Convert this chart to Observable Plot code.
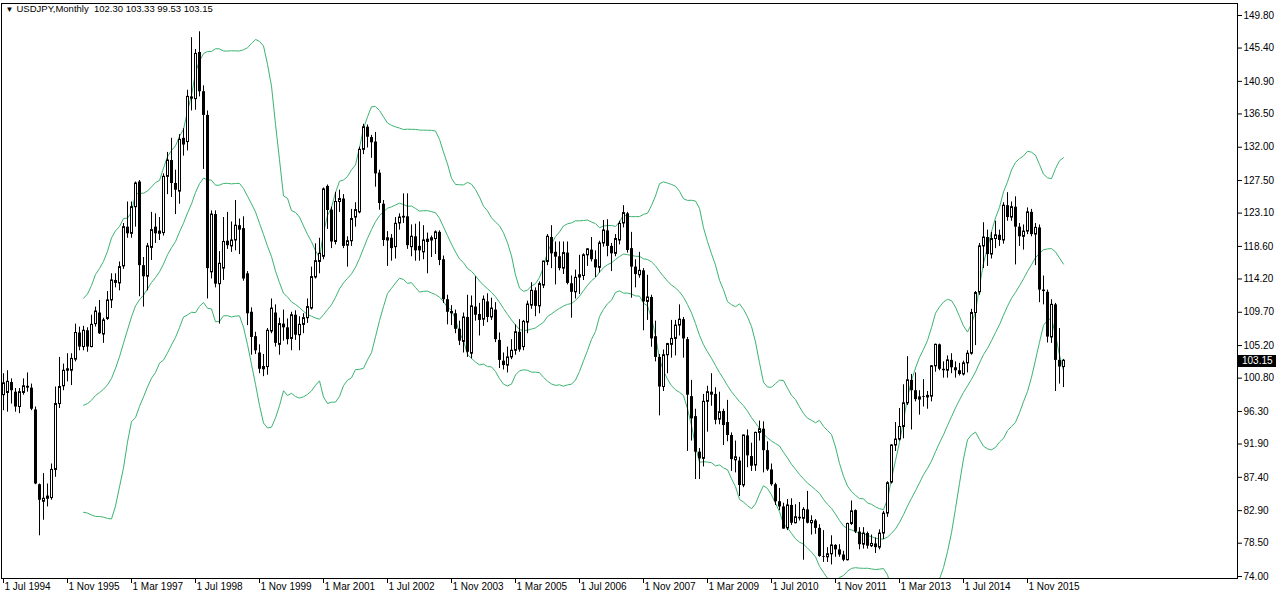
<!DOCTYPE html>
<html>
<head>
<meta charset="utf-8">
<script src="https://cdn.jsdelivr.net/npm/d3@7"></script>
<script src="https://cdn.jsdelivr.net/npm/@observablehq/plot@0.6"></script>
<style>
  html, body { margin: 0; padding: 0; background: #fff; }
  #wrap { position: relative; width: 1280px; height: 600px; overflow: hidden; }
  #tag { position: absolute; background: #000; color: #fff; font: 10px "Liberation Sans", Arial, sans-serif;
         line-height: 12px; height: 12px; padding: 0 0 0 4px; box-sizing: border-box; }
</style>
</head>
<body>
<div id="wrap"></div>
<script>
// ---------------- data (monthly bars, Jul 1994 .. Aug 2016) ----------------
const symbol = "USDJPY,Monthly";
const firstMonth = { year: 1994, month: 7 };

const open = [
  98.5, 98.8, 100.2, 98.9, 96.9, 98.8,
  99.7, 99.45, 96.5, 86.4, 84.1, 84.5, 84.6, 88.4, 97.3, 99.7, 101.8, 101.8,
  103.3, 106.9, 105.0, 107.2, 105.0, 108.1, 109.6, 106.7, 108.8, 111.3, 114.0, 113.6,
  115.9, 121.2, 120.3, 123.9, 127.3, 116.0, 114.5, 118.4, 121.2, 120.3, 120.4, 128.0,
  130.2, 127.1, 126.0, 133.2, 132.7, 138.8, 138.5, 144.8, 139.5, 136.3, 115.1, 122.9,
  113.5, 115.6, 119.3, 118.6, 119.4, 121.4, 121.0, 114.9, 109.7, 106.4, 104.2, 102.0,
  102.3, 107.1, 109.6, 105.3, 108.1, 107.6, 106.1, 109.3, 106.6, 108.0, 108.9, 110.2,
  114.4, 116.5, 117.2, 126.7, 123.5, 119.2, 124.6, 125.0, 118.7, 119.3, 122.5, 123.2,
  131.65, 134.7, 133.3, 132.7, 128.5, 124.3, 119.4, 119.7, 118.5, 121.7, 122.5, 122.6,
  118.5, 119.9, 118.6, 117.8, 119.2, 119.4, 119.6, 120.5, 116.8, 111.4, 109.8, 109.5,
  107.4, 105.7, 109.0, 104.1, 110.4, 109.4, 108.7, 111.1, 109.0, 110.0, 105.9, 103.1,
  102.5, 103.6, 104.5, 107.0, 105.0, 108.3, 110.6, 112.6, 110.5, 113.3, 116.5, 119.8,
  117.8, 117.2, 115.6, 117.7, 113.55, 112.4, 114.4, 114.6, 117.4, 118.1, 116.8, 115.7,
  119.0, 120.7, 118.6, 117.6, 119.4, 121.7, 123.0, 118.3, 115.8, 114.7, 115.3, 111.1,
  111.7, 106.4, 103.6, 99.6, 103.9, 105.3, 106.1, 107.9, 108.7, 106.0, 98.3, 95.6,
  90.8, 89.9, 97.6, 98.9, 98.6, 95.2, 96.3, 94.8, 93.05, 89.7, 89.6, 86.3,
  93.0, 90.2, 89.0, 93.4, 93.9, 91.0, 88.4, 86.4, 84.1, 83.4, 80.5, 83.6,
  81.2, 82.0, 81.8, 83.0, 81.2, 81.5, 80.5, 76.7, 76.6, 77.0, 78.2, 77.6,
  76.9, 76.2, 81.1, 82.9, 80.0, 78.3, 79.8, 78.1, 78.4, 77.9, 79.8, 82.5,
  86.7, 91.7, 92.5, 94.2, 97.4, 100.5, 99.1, 97.9, 98.3, 98.2, 98.3, 102.4,
  105.3, 102.0, 101.8, 103.2, 102.2, 101.8, 101.3, 102.8, 104.1, 109.6, 112.4, 118.6,
  119.8, 117.5, 119.6, 120.1, 119.4, 124.1, 122.5, 123.9, 121.2, 119.9, 120.6, 123.2,
  120.2, 121.1, 112.7, 112.4, 106.3, 110.7, 103.2, 102.30
];
const high = [
  101.4, 101.8, 100.7, 99.4, 99.4, 100.7,
  101.5, 100.0, 96.9, 86.5, 87.9, 86.5, 89.2, 99.6, 103.6, 102.7, 104.1, 104.1,
  108.1, 107.7, 107.8, 107.6, 109.3, 110.4, 111.3, 108.9, 112.5, 114.9, 114.9, 116.5,
  121.7, 124.6, 124.6, 127.3, 127.5, 117.1, 119.0, 123.2, 123.0, 122.5, 128.4, 131.3,
  133.2, 128.9, 133.7, 134.5, 139.7, 146.8, 145.2, 147.6, 140.3, 136.9, 123.4, 123.4,
  117.9, 122.5, 123.2, 121.9, 124.8, 122.3, 122.6, 115.2, 110.3, 107.0, 105.3, 104.0,
  107.5, 111.5, 110.7, 108.9, 110.0, 108.8, 109.7, 109.9, 109.1, 109.5, 111.5, 115.8,
  118.95, 119.7, 126.5, 126.9, 123.9, 125.9, 126.2, 125.6, 119.9, 123.6, 124.5, 132.0,
  135.1, 135.0, 133.6, 134.0, 128.9, 124.8, 120.6, 120.2, 122.5, 123.0, 125.7, 125.7,
  121.5, 121.6, 121.9, 121.4, 120.4, 120.0, 120.7, 120.7, 117.3, 112.0, 110.6, 110.0,
  108.5, 109.6, 112.0, 111.9, 114.5, 110.9, 111.9, 112.2, 111.6, 111.0, 106.9, 104.2,
  105.0, 106.0, 108.0, 108.7, 108.6, 111.2, 113.7, 113.0, 113.8, 116.6, 120.2, 121.4,
  119.2, 119.2, 119.2, 119.2, 114.6, 115.4, 117.4, 117.6, 118.3, 119.8, 118.0, 119.3,
  122.1, 122.2, 119.0, 120.2, 122.0, 124.1, 123.2, 120.5, 116.8, 117.8, 115.6, 114.7,
  112.0, 108.5, 104.0, 104.6, 105.5, 108.6, 108.6, 110.7, 109.0, 106.3, 100.5, 96.6,
  91.3, 98.6, 99.7, 101.4, 99.5, 98.9, 96.6, 97.8, 93.4, 92.3, 90.1, 93.1,
  93.8, 92.0, 93.5, 95.0, 94.9, 92.2, 89.2, 86.6, 85.9, 83.9, 84.4, 84.5,
  83.7, 84.0, 83.3, 85.5, 82.2, 81.7, 81.0, 80.2, 77.9, 79.5, 78.3, 78.3,
  77.4, 81.2, 84.2, 83.0, 80.6, 80.6, 80.0, 79.6, 79.2, 80.3, 82.8, 86.8,
  91.8, 94.8, 96.7, 99.9, 103.7, 101.3, 101.5, 99.1, 100.6, 99.0, 102.5, 105.4,
  105.4, 103.0, 103.8, 104.1, 103.0, 102.8, 103.1, 104.5, 110.1, 112.5, 119.0, 121.8,
  120.8, 120.5, 122.0, 120.8, 124.5, 125.86, 124.6, 125.3, 121.7, 121.5, 123.8, 123.6,
  121.7, 121.5, 114.6, 112.7, 111.4, 110.9, 107.5, 103.33
];
const low = [
  96.4, 96.2, 97.3, 96.2, 96.0, 98.5,
  98.9, 96.4, 86.4, 79.5, 81.6, 83.4, 84.3, 87.4, 96.7, 99.1, 100.3, 99.8,
  103.0, 104.5, 104.5, 104.3, 104.9, 107.7, 106.7, 105.5, 108.6, 110.2, 113.0, 112.6,
  115.5, 119.7, 119.7, 121.2, 111.8, 110.4, 112.6, 116.7, 119.0, 119.4, 120.0, 125.6,
  125.2, 122.9, 124.3, 130.8, 131.5, 136.9, 137.0, 138.8, 129.0, 111.5, 114.2, 113.0,
  108.1, 114.0, 118.2, 117.8, 118.0, 117.5, 113.9, 107.9, 103.9, 104.0, 101.4, 101.0,
  101.2, 106.8, 105.0, 103.9, 105.8, 105.3, 104.5, 105.9, 104.5, 106.8, 108.2, 110.0,
  114.2, 114.9, 116.8, 120.9, 118.3, 118.8, 123.2, 118.3, 115.8, 118.6, 121.2, 123.0,
  131.0, 131.9, 130.5, 126.6, 123.5, 118.6, 115.9, 116.6, 116.9, 120.8, 121.7, 118.2,
  117.2, 116.6, 116.6, 116.8, 114.9, 117.1, 117.5, 116.0, 110.9, 108.0, 107.9, 106.8,
  105.2, 104.2, 103.6, 103.4, 108.5, 106.5, 107.8, 108.3, 108.6, 105.6, 102.1, 101.9,
  101.5, 103.3, 103.9, 104.3, 104.5, 106.8, 110.1, 109.1, 109.5, 112.9, 116.0, 115.6,
  113.4, 115.3, 114.8, 113.4, 108.9, 111.5, 112.1, 114.0, 115.9, 116.5, 114.4, 115.0,
  118.5, 117.2, 115.2, 117.2, 118.8, 121.1, 117.7, 111.6, 113.0, 114.3, 107.2, 108.6,
  104.97, 103.0, 95.7, 99.0, 101.4, 103.5, 103.8, 106.5, 103.5, 90.9, 92.3, 87.1,
  87.1, 88.8, 93.5, 97.0, 94.5, 94.5, 91.7, 92.2, 88.2, 88.0, 84.8, 86.0,
  88.7, 88.2, 88.2, 92.3, 88.0, 88.2, 86.2, 83.6, 82.9, 80.4, 80.2, 80.9,
  81.1, 81.5, 76.2, 81.1, 79.6, 79.7, 76.6, 75.9, 75.9, 75.56, 76.6, 76.6,
  76.0, 76.1, 80.9, 79.8, 77.6, 77.7, 77.7, 77.9, 77.1, 77.6, 79.0, 82.0,
  86.5, 90.9, 92.3, 92.6, 97.1, 93.8, 97.6, 95.8, 96.9, 96.6, 97.6, 101.6,
  101.8, 100.8, 100.8, 101.4, 100.8, 101.1, 101.1, 101.5, 103.9, 105.2, 112.0, 115.6,
  115.9, 116.9, 118.3, 118.6, 118.9, 122.0, 122.0, 116.1, 118.6, 118.1, 120.2, 119.9,
  116.0, 111.0, 110.7, 105.55, 105.5, 99.0, 100.0, 99.53
];
const close = [
  100.1, 100.3, 99.1, 96.9, 98.9, 99.7,
  99.45, 96.6, 86.5, 84.3, 84.5, 84.8, 88.4, 97.3, 99.6, 101.8, 102.0, 103.4,
  106.9, 105.0, 107.2, 105.0, 108.0, 109.8, 106.8, 108.6, 111.3, 114.0, 113.6, 115.8,
  121.2, 120.3, 123.9, 127.1, 116.0, 114.5, 118.6, 120.8, 120.3, 120.6, 128.0, 130.2,
  127.1, 126.2, 133.0, 132.3, 138.8, 138.5, 144.6, 139.5, 136.3, 115.6, 122.9, 113.5,
  116.25, 119.2, 118.7, 119.4, 121.4, 120.8, 114.2, 109.5, 106.3, 104.5, 102.0, 102.3,
  107.2, 110.2, 105.5, 108.1, 107.6, 106.0, 109.3, 106.6, 108.0, 108.9, 110.4, 114.45,
  116.6, 117.6, 126.3, 123.45, 119.2, 124.6, 125.0, 118.6, 119.3, 122.3, 123.5, 131.65,
  134.7, 133.35, 132.6, 128.4, 124.4, 119.4, 119.7, 118.3, 121.65, 122.5, 122.6, 118.7,
  119.9, 118.0, 118.0, 119.4, 119.5, 119.7, 120.5, 116.7, 111.4, 109.7, 109.5, 107.4,
  105.8, 109.0, 104.3, 110.5, 109.3, 108.6, 111.4, 109.0, 110.2, 106.0, 103.2, 102.5,
  103.6, 104.5, 107.0, 104.6, 108.4, 110.75, 112.6, 110.5, 113.5, 116.55, 119.9, 117.6,
  117.15, 115.6, 117.7, 113.6, 112.4, 114.35, 114.7, 117.4, 118.2, 116.8, 115.7, 119.0,
  120.75, 118.6, 117.6, 119.6, 121.65, 123.1, 118.05, 115.8, 114.8, 115.3, 111.1, 111.7,
  106.1, 103.6, 99.6, 103.9, 105.4, 106.1, 107.9, 108.7, 106.1, 98.5, 95.3, 90.8,
  89.9, 97.6, 98.9, 98.5, 95.1, 96.2, 94.4, 93.05, 89.8, 90.1, 86.3, 93.05,
  90.3, 88.9, 93.4, 93.9, 91.0, 88.4, 86.4, 84.1, 83.4, 80.4, 83.6, 81.2,
  82.0, 81.8, 83.0, 81.2, 81.5, 80.5, 76.7, 76.6, 77.0, 78.2, 77.6, 76.9,
  76.2, 81.1, 82.8, 80.0, 78.3, 79.8, 78.1, 78.4, 77.9, 79.8, 82.5, 86.6,
  91.7, 92.5, 94.2, 97.4, 100.5, 99.1, 97.9, 98.2, 98.2, 98.4, 102.4, 105.3,
  102.0, 101.8, 103.2, 102.2, 101.8, 101.3, 102.8, 104.1, 109.6, 112.3, 118.6, 119.8,
  117.5, 119.6, 120.1, 119.4, 124.1, 122.5, 123.9, 121.2, 119.9, 120.6, 123.2, 120.2,
  121.1, 112.7, 112.5, 106.35, 110.7, 103.2, 102.3, 103.15
];

const xTickLabels = [
  "1 Jul 1994", "1 Nov 1995", "1 Mar 1997", "1 Jul 1998", "1 Nov 1999", "1 Mar 2001",
  "1 Jul 2002", "1 Nov 2003", "1 Mar 2005", "1 Jul 2006", "1 Nov 2007", "1 Mar 2009",
  "1 Jul 2010", "1 Nov 2011", "1 Mar 2013", "1 Jul 2014", "1 Nov 2015"
];
const yTickValues = [149.80, 145.40, 140.90, 136.50, 132.00, 127.50, 123.10, 118.60, 114.20,
  109.70, 105.20, 100.80, 96.30, 91.90, 87.40, 82.90, 78.50, 74.00];

const bandPeriod = 20;
const bandDeviations = 2;
// ---------------------------------------------------------------------------

const bars = open.map((o, i) => ({ i, open: o, high: high[i], low: low[i], close: close[i] }));
const up = bars.filter(d => d.close >= d.open);
const down = bars.filter(d => d.close < d.open);

const monthNames = ["Jan","Feb","Mar","Apr","May","Jun","Jul","Aug","Sep","Oct","Nov","Dec"];
const xTicks = xTickLabels.map(label => {
  const [, mon, yr] = label.split(" ");
  return { label, i: (+yr - firstMonth.year) * 12 + monthNames.indexOf(mon) + 1 - firstMonth.month };
});

// Bollinger bands (population deviation over the last `bandPeriod` closes)
function bandReducer(kind) {
  return (values) => {
    if (values.length < bandPeriod + 1) return NaN;
    const w = Array.from(values).slice(-bandPeriod);
    const m = d3.mean(w);
    const sd = Math.sqrt(d3.mean(w, v => (v - m) ** 2));
    return kind === "mid" ? m : kind === "up" ? m + bandDeviations * sd : m - bandDeviations * sd;
  };
}
const bandColor = "#3CB371";
const band = (kind) => Plot.lineY(bars, Plot.windowY(
  { k: bandPeriod + 1, anchor: "end", strict: true, reduce: bandReducer(kind) },
  { x: "i", y: "close", stroke: bandColor, strokeWidth: 1, clip: true }
));

const last = bars[bars.length - 1];
const header = `${symbol}\u00a0 ${last.open.toFixed(2)} ${last.high.toFixed(2)} ${last.low.toFixed(2)} ${last.close.toFixed(2)}`;

const chart = Plot.plot({
  width: 1280,
  height: 600,
  marginLeft: 1,
  marginRight: 43,
  marginTop: 3,
  marginBottom: 22,
  style: { fontFamily: "'Liberation Sans', Arial, sans-serif", fontSize: "10px", background: "#fff", color: "#000", overflow: "visible" },
  x: { type: "linear", domain: [-0.5, 308.5] },
  y: { type: "linear", domain: [73.73, 151.42] },
  marks: [
    band("up"),
    band("mid"),
    band("lo"),
    Plot.ruleX(bars, { x: "i", y1: "low", y2: "high", stroke: "#000", strokeWidth: 1 }),
    Plot.rect(down, { x1: d => d.i - 0.375, x2: d => d.i + 0.375, y1: "open", y2: "close", fill: "#000", dx: 0.5 }),
    Plot.rect(up, { x1: d => d.i - 0.25, x2: d => d.i + 0.25, y1: "open", y2: "close", fill: "#fff", stroke: "#000", strokeWidth: 1, dx: 0.5 }),
    Plot.frame({ stroke: "#000" }),
    Plot.axisY({ anchor: "right", ticks: yTickValues, tickFormat: d => d.toFixed(2), tickSize: 4, tickPadding: 2, label: null }),
    Plot.axisX({ ticks: xTicks.map(d => d.i), tickFormat: () => "", tickSize: 5, label: null }),
    Plot.text(xTicks, { x: "i", text: "label", frameAnchor: "bottom", lineAnchor: "top", textAnchor: "start", dx: 1, dy: 4 }),
    Plot.text(["\u25BC"], { frameAnchor: "top-left", dx: 4, dy: 3, lineAnchor: "top", textAnchor: "start", fontSize: 8 }),
    Plot.text([header], { frameAnchor: "top-left", dx: 15, dy: 2, lineAnchor: "top", textAnchor: "start", fontSize: 9.5 })
  ]
});

const wrap = document.getElementById("wrap");
wrap.appendChild(chart);

// current price tag on the price scale
const yScale = chart.scale("y");
const py = yScale.apply(last.close);
const tag = document.createElement("div");
tag.id = "tag";
tag.textContent = last.close.toFixed(2);
tag.style.left = "1238px";
tag.style.top = (py - 6 + 0.5) + "px";
tag.style.width = "38px";
wrap.appendChild(tag);
</script>
</body>
</html>
